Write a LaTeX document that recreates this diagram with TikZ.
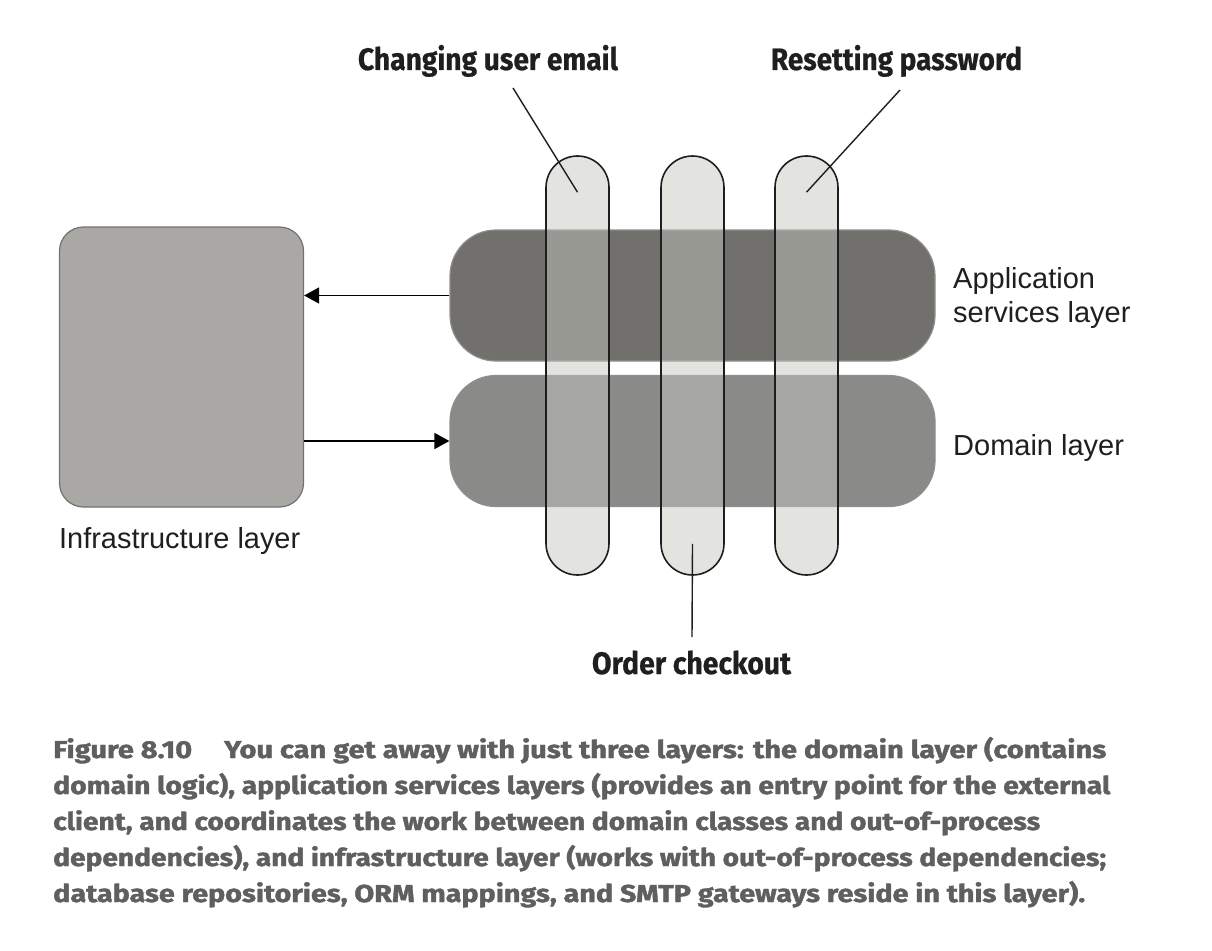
\documentclass[tikz,border=0pt]{standalone}
\usepackage{fontspec}
\setmainfont{Liberation Sans}
\newfontfamily\titlefont{Fira Sans}[BoldFeatures={FakeBold=0.6}]
\newfontfamily\capfont{Fira Sans}[BoldFeatures={FakeBold=1.4}]
\usetikzlibrary{arrows.meta,calc}
\definecolor{appcol}{HTML}{72706D}
\definecolor{domcol}{HTML}{8A8A88}
\definecolor{infcol}{HTML}{A9A8A4}
\definecolor{laybord}{HTML}{8E8E8C}
\definecolor{pillcol}{HTML}{C5C6C0}
\definecolor{pillline}{HTML}{1E1E1E}
\definecolor{capcol}{HTML}{5E5F5F}
\tikzset{
  layer/.style={rounded corners=46pt, draw=laybord, line width=1.2pt, minimum width=485pt, minimum height=131pt, inner sep=0pt},
  infra/.style={rounded corners=24pt, draw=laybord!80!black, line width=1.2pt, fill=infcol, minimum width=244pt, minimum height=280pt, inner sep=0pt},
  pill/.style={rounded corners=31.5pt, draw=pillline, line width=1.6pt, fill=pillcol, fill opacity=0.48, draw opacity=1, minimum width=63pt, minimum height=419pt, inner sep=0pt},
  arr/.style={line width=1.6pt, -{Triangle[length=15pt,width=16pt]}},
  leader/.style={line width=1.4pt, draw=pillline},
  title/.style={font=\titlefont\bfseries\fontsize{31}{31}\selectfont, anchor=base, inner sep=0pt, text=black!88},
  lab/.style={font=\fontsize{29}{33}\selectfont, anchor=base west, inner sep=0pt, text=black!88},
  capline/.style={font=\capfont\bfseries\fontsize{24.5}{24.5}\selectfont, anchor=base west, inner sep=0pt, text=capcol}
}
\begin{document}
\begin{tikzpicture}[x=1pt,y=-1pt]
\useasboundingbox[fill=white] (0,0) rectangle (1212,950);
% layers
\node[infra] (infra) at (181.5,367) {};
\node[layer, fill=appcol] (app) at (692.5,295.5) {};
\node[layer, fill=domcol] (dom) at (692.5,441) {};
% arrows
\draw[arr] (app.west) -- (app.west -| infra.east);
\draw[arr] (dom.west -| infra.east) -- (dom.west);
% pills
\node[pill] (p1) at (577.5,365.5) {};
\node[pill] (p2) at (692.5,365.5) {};
\node[pill] (p3) at (806.5,365.5) {};
% titles
\node[title] (t1) at (488,70) {\resizebox{260pt}{\height}{Changing user email}};
\node[title] (t2) at (896.5,70) {\resizebox{251pt}{\height}{Resetting password}};
\node[title] (t3) at (691.5,674) {\resizebox{199pt}{\height}{Order checkout}};
\coordinate (c1) at (513,88);
\coordinate (c2) at (900,90);
\coordinate (c3) at (692,637);
\draw[leader] (c1) -- ($(p1.north)+(0,37)$);
\draw[leader] (c2) -- ($(p3.north)+(0,37)$);
\draw[leader] (c3) -- ($(p2.south)+(0,-32)$);
% layer labels
\node[lab] (la1) at (953,288) {Application};
\node[lab] (la2) at (953,322) {services layer};
\node[lab] (ld) at (953,455) {Domain layer};
\node[lab] (li) at (59,548) {\resizebox{241pt}{\height}{Infrastructure layer}};
% caption
\node[capline] (cap1) at (53,758) {\resizebox{1053pt}{\height}{Figure 8.10\hspace{1.1em}You can get away with just three layers: the domain layer (contains}};
\node[capline] (cap2) at (53,794) {\resizebox{1057pt}{\height}{domain logic), application services layers (provides an entry point for the external}};
\node[capline] (cap3) at (53,830) {\resizebox{987pt}{\height}{client, and coordinates the work between domain classes and out-of-process}};
\node[capline] (cap4) at (53,866) {\resizebox{1053pt}{\height}{dependencies), and infrastructure layer (works with out-of-process dependencies;}};
\node[capline] (cap5) at (53,902) {\resizebox{1032pt}{\height}{database repositories, ORM mappings, and SMTP gateways reside in this layer).}};
\end{tikzpicture}
\end{document}
